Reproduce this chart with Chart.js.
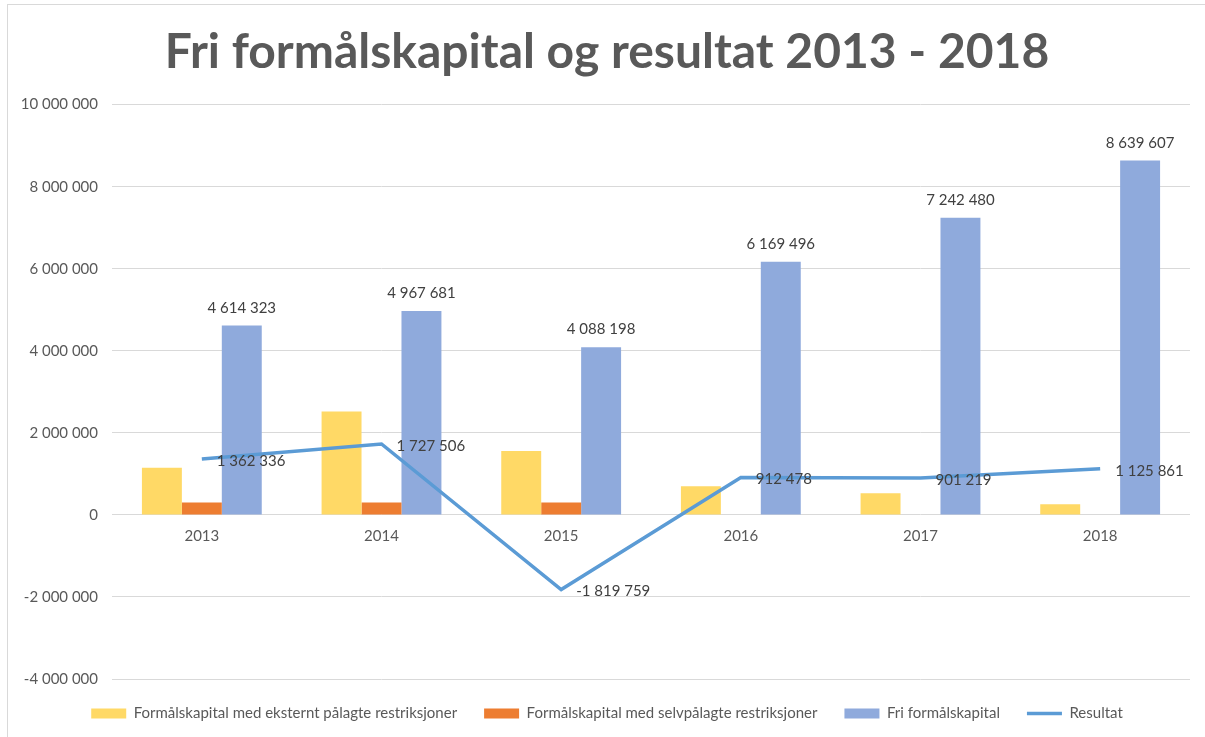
<!DOCTYPE html>
<html>
<head>
<meta charset="utf-8">
<script src="https://cdn.jsdelivr.net/npm/chart.js@4"></script>
<style>
  body { margin: 0; background: #fff; }
  .wrap {
    position: absolute; left: 7px; top: 4px;
    width: 1198px; height: 733px;
    border-left: 1px solid #d9d9d9; border-top: 1px solid #d9d9d9;
  }
</style>
</head>
<body>
<div class="wrap"><canvas id="fondChart"></canvas></div>
<script>
const years = ['2013', '2014', '2015', '2016', '2017', '2018'];
const eksternData = [1150000, 2520000, 1560000, 700000, 530000, 260000];
const selvData = [300000, 300000, 300000, 0, 0, 0];
const friData = [4614323, 4967681, 4088198, 6169496, 7242480, 8639607];
const resultatData = [1362336, 1727506, -1819759, 912478, 901219, 1125861];
const yMin = -4000000, yMax = 10000000, yStep = 2000000;

function fmt(v) {
    return String(Math.round(v)).replace(/\B(?=(\d{3})+(?!\d))/g, ' ');
}

const FONT = 'Lato';

// verdier over søylene og ved linjepunktene
const valueLabels = {
    id: 'valueLabels',
    afterDatasetsDraw(chart) {
        const ctx = chart.ctx;
        ctx.save();
        ctx.font = '15px ' + FONT;
        ctx.fillStyle = '#404040';

        const bars = chart.getDatasetMeta(2);
        ctx.textAlign = 'center';
        ctx.textBaseline = 'bottom';
        bars.data.forEach((el, i) => {
            ctx.fillText(fmt(friData[i]), el.x, el.y - 10);
        });

        const line = chart.getDatasetMeta(3);
        ctx.textAlign = 'left';
        ctx.textBaseline = 'middle';
        line.data.forEach((el, i) => {
            ctx.fillText(fmt(resultatData[i]), el.x + 15, el.y + 2);
        });
        ctx.restore();
    }
};

const ctx = document.getElementById('fondChart');
new Chart(ctx, {
    type: 'bar',
    data: {
        labels: years,
        datasets: [{
            label: 'Formålskapital med eksternt pålagte restriksjoner',
            data: eksternData,
            backgroundColor: '#ffd966',
            borderWidth: 0,
            order: 1
        },
        {
            label: 'Formålskapital med selvpålagte restriksjoner',
            data: selvData,
            backgroundColor: '#ed7d31',
            borderWidth: 0,
            order: 1
        },
        {
            label: 'Fri formålskapital',
            data: friData,
            backgroundColor: '#8faadc',
            borderWidth: 0,
            order: 1
        },
        {
            type: 'line',
            label: 'Resultat',
            data: resultatData,
            borderColor: '#5b9bd5',
            backgroundColor: '#5b9bd5',
            borderWidth: 3.5,
            pointRadius: 0,
            tension: 0,
            order: 0
        }]
    },
    plugins: [valueLabels],
    options: {
        responsive: true,
        maintainAspectRatio: false,
        animation: false,
        datasets: {
            bar: {
                categoryPercentage: 0.667,
                barPercentage: 1
            }
        },
        layout: {
            padding: { left: 0, right: 0, top: 0, bottom: 7 }
        },
        plugins: {
            tooltip: { enabled: false },
            title: {
                display: true,
                text: 'Fri formålskapital og resultat 2013 - 2018',
                color: '#595959',
                font: { family: FONT, size: 48, weight: 'bold' },
                padding: { top: 19, bottom: 23 }
            },
            legend: {
                position: 'bottom',
                labels: {
                    color: '#595959',
                    font: { family: FONT, size: 15 },
                    usePointStyle: true,
                    pointStyleWidth: 35,
                    boxHeight: 10,
                    padding: 27,
                    sort: (a, b) => a.datasetIndex - b.datasetIndex,
                    generateLabels(chart) {
                        const items = Chart.defaults.plugins.legend.labels.generateLabels(chart);
                        items.forEach(it => {
                            it.pointStyle = it.datasetIndex === 3 ? 'line' : 'rect';
                            if (it.datasetIndex !== 3) it.lineWidth = 0;
                        });
                        return items;
                    }
                }
            }
        },
        scales: {
            x: {
                position: { y: 0 },
                grid: { display: false },
                border: { display: false },
                ticks: {
                    color: '#595959',
                    font: { family: FONT, size: 15 },
                    padding: 4
                }
            },
            y: {
                min: yMin,
                max: yMax,
                afterFit(scale) { scale.width = 104; },
                ticks: {
                    stepSize: yStep,
                    color: '#595959',
                    font: { family: FONT, size: 15 },
                    padding: 14,
                    callback: v => fmt(v)
                },
                grid: { color: '#d9d9d9', drawTicks: false },
                border: { display: false }
            },
            // tom akse til høyre, bare for luft ved kanten
            yRight: {
                position: 'right',
                min: yMin,
                max: yMax,
                afterFit(scale) { scale.width = 16; },
                ticks: { display: false },
                grid: { display: false },
                border: { display: false }
            }
        }
    }
});
</script>
</body>
</html>
